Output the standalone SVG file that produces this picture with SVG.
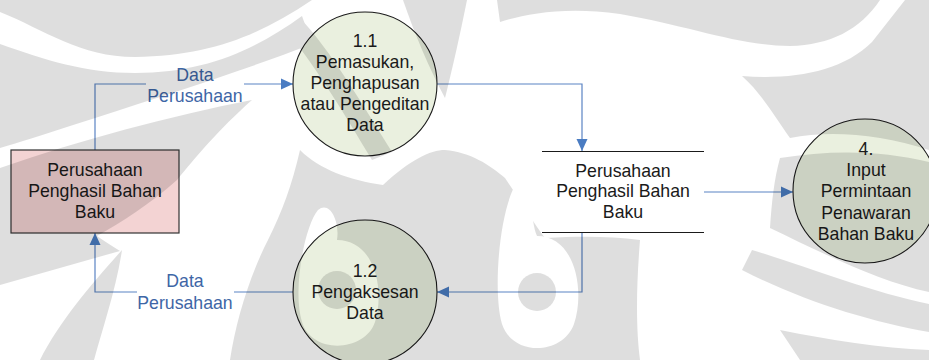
<svg xmlns="http://www.w3.org/2000/svg" width="929" height="360" viewBox="0 0 929 360">
  <defs>
    <style>
      .lbl { font-family: "Liberation Sans", Arial, sans-serif; font-size: 17.7px; text-anchor: middle; fill: #1a1a1a; }
      .flow { font-family: "Liberation Sans", Arial, sans-serif; font-size: 17.7px; text-anchor: middle; fill: #3e66a6; }
      .proc { fill: #eaf0df; stroke: #1a1a1a; stroke-width: 1.1; }
      .ext { fill: #f3d3d3; stroke: #333333; stroke-width: 1.2; }
      .store { stroke: #1a1a1a; stroke-width: 1.1; fill: none; }
      .conn { fill: none; stroke: #5b84c4; stroke-width: 1.2; }
    </style>
    <marker id="arrow" viewBox="0 0 12 12" refX="12" refY="6" markerWidth="12" markerHeight="12" markerUnits="userSpaceOnUse" orient="auto">
      <path d="M0,0.5 L12,6 L0,11.5 Z" fill="#4a7cc2"/>
    </marker>
    <!-- shading of the background emblem: white = shaded, black = clear -->
    <mask id="emblemMask" maskUnits="userSpaceOnUse" x="0" y="0" width="929" height="360">
      <g fill="#fff">
        <!-- upper left corner and the band under the left sweep -->
        <path d="M0,0 H312 C258,36 210,56 135,57 C80,57 45,30 0,12 Z"/>
        <path d="M0,44 C45,60 85,73 135,73 C205,73 255,50 302,16 L312,44 C240,72 150,100 70,126 C40,136 20,142 0,148 Z"/>
        <!-- left middle, behind the external entity -->
        <path d="M0,168 C80,140 170,116 252,100 C218,130 195,158 177,180 C150,204 122,222 97,236 C104,241 112,246 120,251 C80,262 40,274 0,285 Z"/>
        <!-- lower left spike -->
        <path d="M40,360 C60,320 95,280 122,250 C116,290 102,330 94,360 Z"/>
        <!-- diagonal through the upper process -->
        <path d="M300,18 C330,50 360,100 392,152 L372,160 C345,115 318,70 292,38 Z"/>
        <!-- narrow tail between the upper process and the sweep -->
        <path d="M403,0 H467 C460,35 452,70 445,98 C430,70 415,35 403,0 Z"/>
        <!-- upper right region above the right sweep -->
        <path d="M497,0 H880 C860,30 830,45 790,46 C740,46 690,26 620,14 C565,6 525,14 500,22 Z"/>
        <path d="M905,0 H929 V150 C880,134 830,130 790,138 C772,112 760,92 742,76 C792,80 842,72 872,42 Z"/>
        <path d="M780,158 C830,150 880,150 929,162 V292 C880,282 820,252 770,228 C772,200 774,180 780,158 Z"/>
        <!-- central lobes of the emblem -->
        <path d="M300,150 C320,170 350,180 383,185 C410,160 430,150 445,150 C470,152 490,165 505,178 C520,200 535,225 545,238 C580,236 610,236 640,240 C636,290 636,330 640,360 H230 C236,320 250,275 268,240 C282,212 292,185 300,150 Z"/>
        <!-- lower right bands -->
        <path d="M752,250 C800,264 870,292 929,304 V332 C870,322 800,300 742,270 Z"/>
        <path d="M780,330 C830,340 880,348 929,350 V360 H800 Z"/>
      </g>
      <g fill="#000">
        <!-- clear rings round the two eyes -->
        <path d="M337,240 C375,240 385,290 375,322 C365,352 312,355 302,322 C292,290 305,225 318,210 C330,200 340,222 337,240 Z"/>
        <path d="M537,236 C576,236 585,292 574,324 C562,356 512,356 502,324 C492,290 500,200 520,178 C534,190 530,220 537,236 Z"/>
      </g>
      <g fill="#fff">
        <circle cx="337" cy="290" r="19"/>
        <circle cx="537" cy="292" r="19"/>
      </g>
    </mask>
  </defs>

  <rect x="0" y="0" width="929" height="360" fill="#ffffff"/>

  <g id="connectors">
    <path class="conn" d="M95,150 V84 H146"/>
    <path class="conn" d="M244,84 H293" marker-end="url(#arrow)"/>
    <path class="conn" d="M437,84 H582 V151" marker-end="url(#arrow)"/>
    <path class="conn" d="M582,232 V292 H437" marker-end="url(#arrow)"/>
    <path class="conn" d="M293,292 H234"/>
    <path class="conn" d="M137,292 H95 V233" marker-end="url(#arrow)"/>
    <path class="conn" d="M704,192 H793" marker-end="url(#arrow)"/>
    <text class="flow" x="195" y="81">Data</text>
    <text class="flow" x="195" y="102">Perusahaan</text>
    <text class="flow" x="185" y="287">Data</text>
    <text class="flow" x="185" y="308.5">Perusahaan</text>
  </g>

  <g id="ext-perusahaan">
    <rect class="ext" x="11" y="150" width="168" height="83"/>
    <text class="lbl" x="95" y="176">Perusahaan</text>
    <text class="lbl" x="95" y="197">Penghasil Bahan</text>
    <text class="lbl" x="95" y="217.5">Baku</text>
  </g>

  <g id="proc-1-1">
    <circle class="proc" cx="365" cy="84" r="72"/>
    <text class="lbl" x="365" y="46.5">1.1</text>
    <text class="lbl" x="365" y="67.8">Pemasukan,</text>
    <text class="lbl" x="365" y="89">Penghapusan</text>
    <text class="lbl" x="365" y="110.2">atau Pengeditan</text>
    <text class="lbl" x="365" y="131.4">Data</text>
  </g>

  <g id="store-perusahaan">
    <line class="store" x1="542" y1="151.5" x2="704" y2="151.5"/>
    <line class="store" x1="542" y1="232.5" x2="704" y2="232.5"/>
    <text class="lbl" x="623" y="176.5">Perusahaan</text>
    <text class="lbl" x="623" y="197.3">Penghasil Bahan</text>
    <text class="lbl" x="623" y="218">Baku</text>
  </g>

  <g id="proc-1-2">
    <circle class="proc" cx="365" cy="292" r="72"/>
    <text class="lbl" x="365" y="276.7">1.2</text>
    <text class="lbl" x="365" y="298.3">Pengaksesan</text>
    <text class="lbl" x="365" y="319.3">Data</text>
  </g>

  <g id="proc-4">
    <circle class="proc" cx="865" cy="191" r="72"/>
    <text class="lbl" x="866" y="154.5">4.</text>
    <text class="lbl" x="866" y="175.8">Input</text>
    <text class="lbl" x="866" y="197.3">Permintaan</text>
    <text class="lbl" x="866" y="218.5">Penawaran</text>
    <text class="lbl" x="866" y="239.8">Bahan Baku</text>
  </g>

  <!-- faint emblem printed over the page -->
  <rect id="emblem" x="0" y="0" width="929" height="360" fill="#000" fill-opacity="0.13" mask="url(#emblemMask)"/>
</svg>
